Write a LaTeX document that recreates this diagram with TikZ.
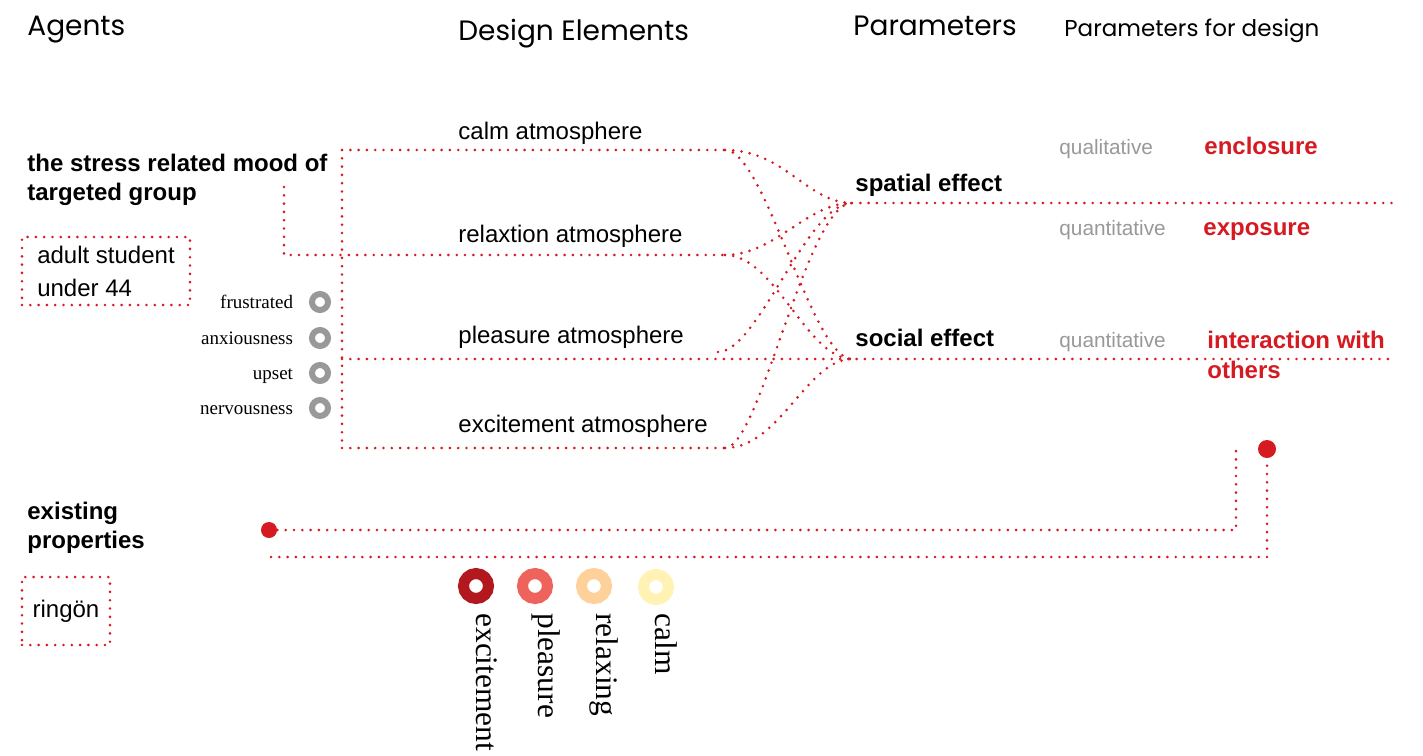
\documentclass[tikz,border=0pt]{standalone}
\usepackage{fontspec}
\setmainfont{Liberation Sans}
\newfontfamily\feelfont{Liberation Serif}
\newfontfamily\headfont{Poppins}
\usetikzlibrary{positioning}

\definecolor{dotred}{HTML}{D51A22}
\definecolor{softgray}{HTML}{999999}
\definecolor{moodexcite}{HTML}{B2181D}
\definecolor{moodpleasure}{HTML}{EE645C}
\definecolor{moodrelax}{HTML}{FDD199}
\definecolor{moodcalm}{HTML}{FFF2B2}

\begin{document}
\begin{tikzpicture}[x=0.5pt, y=-0.5pt,
	headnode/.style={anchor=base west, inner sep=0pt, font=\headfont\fontsize{14}{17}\selectfont},
	subhead/.style={anchor=base west, inner sep=0pt, font=\headfont\fontsize{11.5}{14}\selectfont},
	atmnode/.style={anchor=base west, inner sep=0pt, font=\fontsize{12}{14.5}\selectfont},
	agentnode/.style={anchor=base west, inner sep=0pt, align=left, font=\bfseries\fontsize{12}{14.3}\selectfont},
	kindnode/.style={anchor=base west, inner sep=0pt, text=softgray, font=\fontsize{10.4}{12}\selectfont},
	paramnode/.style={anchor=base west, inner sep=0pt, align=left, text=dotred, font=\bfseries\fontsize{12}{14.8}\selectfont},
	dotline/.style={draw=dotred, line width=1.45pt, line cap=round, dash pattern=on 0pt off 4.15pt},
	dotbox/.style={dotline, inner sep=0pt, align=left, font=\fontsize{12}{16.5}\selectfont},
	feelring/.style={circle, draw=softgray, line width=3pt, minimum size=8pt, inner sep=0pt},
	feelnode/.style={inner sep=0pt, text height=6.5pt, text depth=0pt, font=\feelfont\fontsize{9.5}{11}\selectfont},
	moodring/.style={circle, line width=5.5pt, minimum size=12.5pt, inner sep=0pt},
	moodlabel/.style={rotate=-90, anchor=base west, inner sep=0pt, font=\feelfont\fontsize{15.7}{18}\selectfont},
	reddot/.style={circle, fill=dotred, inner sep=0pt, minimum size=8pt},
	]
	\useasboundingbox[fill=white] (0,0) rectangle (1423,755);
	%Headers
	\node[headnode] (agents)   at (27,35)   {Agents};
	\node[headnode] (elements) at (458,40)  {Design Elements};
	\node[headnode] (params)   at (853,35)  {Parameters};
	\node[subhead]  (design)   at (1064,36) {Parameters for design};

	%Agents
	\node[agentnode] (mood) at (27,200) {the stress related mood of\\targeted group};
	\node[dotbox, minimum width=84pt, minimum height=34pt] (student) at (106,271) {adult student\\under 44};
	\node[agentnode] (existing) at (27,548) {existing\\properties};
	\node[dotbox, minimum width=44pt, minimum height=34pt] (ringon) at (66,611) {ring\"on};

	%Feelings
	\node[feelring] (fr) at (320,302) {};
	\node[feelring] (an) at (320,338) {};
	\node[feelring] (up) at (320,373) {};
	\node[feelring] (ne) at (320,408) {};
	\node[feelnode, left=7.8pt of fr] {frustrated};
	\node[feelnode, left=7.8pt of an] {anxiousness};
	\node[feelnode, left=7.8pt of up] {upset};
	\node[feelnode, left=7.8pt of ne] {nervousness};

	%Design elements
	\node[atmnode] (calm)     at (458,139) {calm atmosphere};
	\node[atmnode] (relax)    at (458,242) {relaxtion atmosphere};
	\node[atmnode] (pleasure) at (458,343) {pleasure atmosphere};
	\node[atmnode] (excite)   at (458,432) {excitement atmosphere};

	%Parameters
	\node[agentnode] (spatial) at (855,191) {spatial effect};
	\node[agentnode] (social)  at (855,346) {social effect};
	\node[kindnode] (qual)   at (1059,154) {qualitative};
	\node[kindnode] (quant)  at (1059,235) {quantitative};
	\node[kindnode] (quant2) at (1059,347) {quantitative};
	\node[paramnode] (enclosure)   at (1204,154) {enclosure};
	\node[paramnode] (exposure)    at (1203,235) {exposure};
	\node[paramnode] (interaction) at (1207,378) {interaction with\\others};

	%Legend
	\node[moodring, draw=moodexcite]   (lexc) at (476,586) {};
	\node[moodring, draw=moodpleasure] (lple) at (535,586) {};
	\node[moodring, draw=moodrelax]    (lrel) at (594,586) {};
	\node[moodring, draw=moodcalm]     (lcal) at (656,587) {};
	\node[moodlabel] at (476,613) {excitement};
	\node[moodlabel] at (538,613) {pleasure};
	\node[moodlabel] at (596,613) {relaxing};
	\node[moodlabel] at (655,613) {calm};

	%Points
	\coordinate (moodTop)   at (342,150);
	\coordinate (moodMid)   at (342,359);
	\coordinate (moodBot)   at (342,448);
	\coordinate (moodHook)  at (284,187);
	\coordinate (hookBend)  at (284,255);
	\coordinate (calmEnd)   at (725,150);
	\coordinate (relaxEnd)  at (725,255);
	\coordinate (pleasEnd)  at (718,352);
	\coordinate (exciteEnd) at (725,448);
	\coordinate (spatialIn) at (852,203);
	\coordinate (socialIn)  at (852,359);
	\coordinate (spatialOut) at (1397,203);
	\coordinate (socialOut)  at (1395,359);
	\node[reddot] (propDot) at (269,530) {};
	\node[reddot, minimum size=9pt] (designDot) at (1267,449) {};
	\coordinate (propBend)  at (1236,530);
	\coordinate (propTop)   at (1236,450);
	\coordinate (lowStart)  at (271,557);
	\coordinate (lowBend)   at (1267,557);

	%Lines
	\draw[dotline] (moodTop) -- (moodBot);
	\draw[dotline] (moodTop) -- (calmEnd);
	\draw[dotline] (moodHook) -- (hookBend) -- (relaxEnd);
	\draw[dotline] (moodMid) -- (socialOut);
	\draw[dotline] (moodBot) -- (exciteEnd);
	\draw[dotline] (spatialIn) -- (spatialOut);
	\draw[dotline] (calmEnd) .. controls +(60,0) and +(-45,0) .. (spatialIn);
	\draw[dotline] (calmEnd) .. controls +(40,0) and +(-40,0) .. (socialIn);
	\draw[dotline] (relaxEnd) .. controls +(50,0) and +(-45,0) .. (spatialIn);
	\draw[dotline] (relaxEnd) .. controls +(50,0) and +(-45,0) .. (socialIn);
	\draw[dotline] (pleasEnd) .. controls +(40,0) and +(-45,0) .. (spatialIn);
	\draw[dotline] (exciteEnd) .. controls +(35,0) and +(-45,0) .. (spatialIn);
	\draw[dotline] (exciteEnd) .. controls +(55,0) and +(-45,0) .. (socialIn);
	\draw[dotline] (propDot) -- (propBend) -- (propTop);
	\draw[dotline] (lowStart) -- (lowBend) -- (designDot);
\end{tikzpicture}
\end{document}
